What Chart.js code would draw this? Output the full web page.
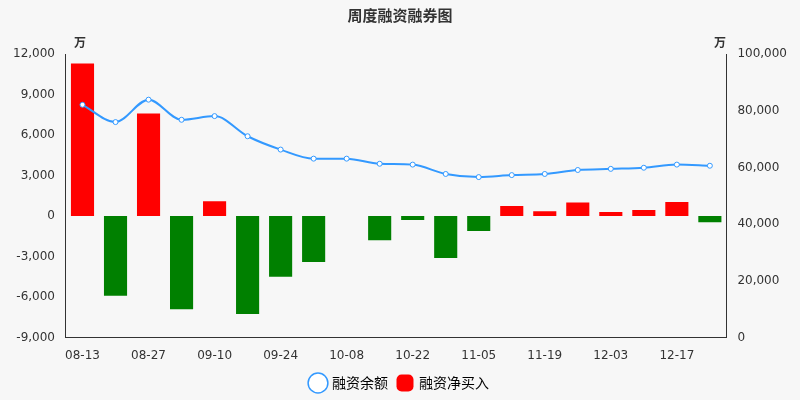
<!DOCTYPE html>
<html><head><meta charset="utf-8">
<script src="https://cdn.jsdelivr.net/npm/chart.js@4"></script>
<style>html,body{margin:0;background:#f7f7f7}#w{width:800px;height:400px}</style>
</head><body><div id="w"><canvas id="c"></canvas></div>
<script>
const categories=["08-13","08-20","08-27","09-03","09-10","09-17","09-24","10-01","10-08","10-15","10-22","10-29","11-05","11-12","11-19","11-26","12-03","12-10","12-17","12-24"];
const netBuy=[11300,-5900,7600,-6900,1100,-7250,-4500,-3400,0,-1800,-300,-3100,-1100,750,350,1000,300,450,1050,-450];
const balance=[82100,76000,83900,76800,78100,71000,66300,63100,63100,61300,61000,57700,56600,57300,57700,59100,59500,59900,61000,60600];
const leftTicks=[-9000,-6000,-3000,0,3000,6000,9000,12000];
const rightTicks=[0,20000,40000,60000,80000,100000];
const font={family:"DejaVu Sans",size:12};
const unitPlugin={id:'u',afterDraw(ch){const c=ch.ctx;c.save();c.fillStyle='#333';c.font='bold 12px "Noto Sans CJK SC"';c.textAlign='center';
c.fillText('万',80,42);c.fillText('万',720,42);c.restore();}};
new Chart(document.getElementById('c'),{
data:{labels:categories,datasets:[
{type:'line',label:'融资余额',data:balance,yAxisID:'y1',borderColor:'#3399ff',borderWidth:2,pointBackgroundColor:'#fff',pointBorderColor:'#3399ff',pointRadius:2.5,pointBorderWidth:1,cubicInterpolationMode:'monotone',order:0},
{type:'bar',label:'融资净买入',data:netBuy,yAxisID:'y',backgroundColor:netBuy.map(v=>v>=0?'#ff0000':'#008000'),categoryPercentage:0.7,barPercentage:1,order:1}
]},
options:{responsive:true,maintainAspectRatio:false,animation:false,
layout:{padding:{left:10,right:10,top:0,bottom:0}},
plugins:{title:{display:true,text:'周度融资融券图',color:'#333',font:{family:"Noto Sans CJK SC",size:15,weight:'bold'},padding:{top:6,bottom:30}},
legend:{position:'bottom',labels:{font:{family:"Noto Sans CJK SC",size:14},color:'#333',generateLabels:ch=>[
{text:'融资余额',fillStyle:'#fff',strokeStyle:'#3399ff',lineWidth:1.5,pointStyle:'circle',datasetIndex:0},
{text:'融资净买入',fillStyle:'#ff0000',strokeStyle:'#ff0000',lineWidth:0,pointStyle:'rectRounded',datasetIndex:1}],usePointStyle:true}}},
scales:{
x:{grid:{display:false},border:{color:'#333'},ticks:{color:'#333',font,maxRotation:0,autoSkip:false,callback:(v,i)=>i%2===0?categories[i]:''}},
y:{position:'left',min:-9000,max:12000,afterBuildTicks:a=>{a.ticks=leftTicks.map(v=>({value:v}))},grid:{display:false},border:{color:'#333'},ticks:{color:'#333',font,callback:v=>v.toLocaleString('en-US')}},
y1:{position:'right',min:0,max:100000,afterBuildTicks:a=>{a.ticks=rightTicks.map(v=>({value:v}))},grid:{display:false},border:{color:'#333'},ticks:{color:'#333',font,callback:v=>v.toLocaleString('en-US')}}
}},plugins:[unitPlugin]});
</script></body></html>
